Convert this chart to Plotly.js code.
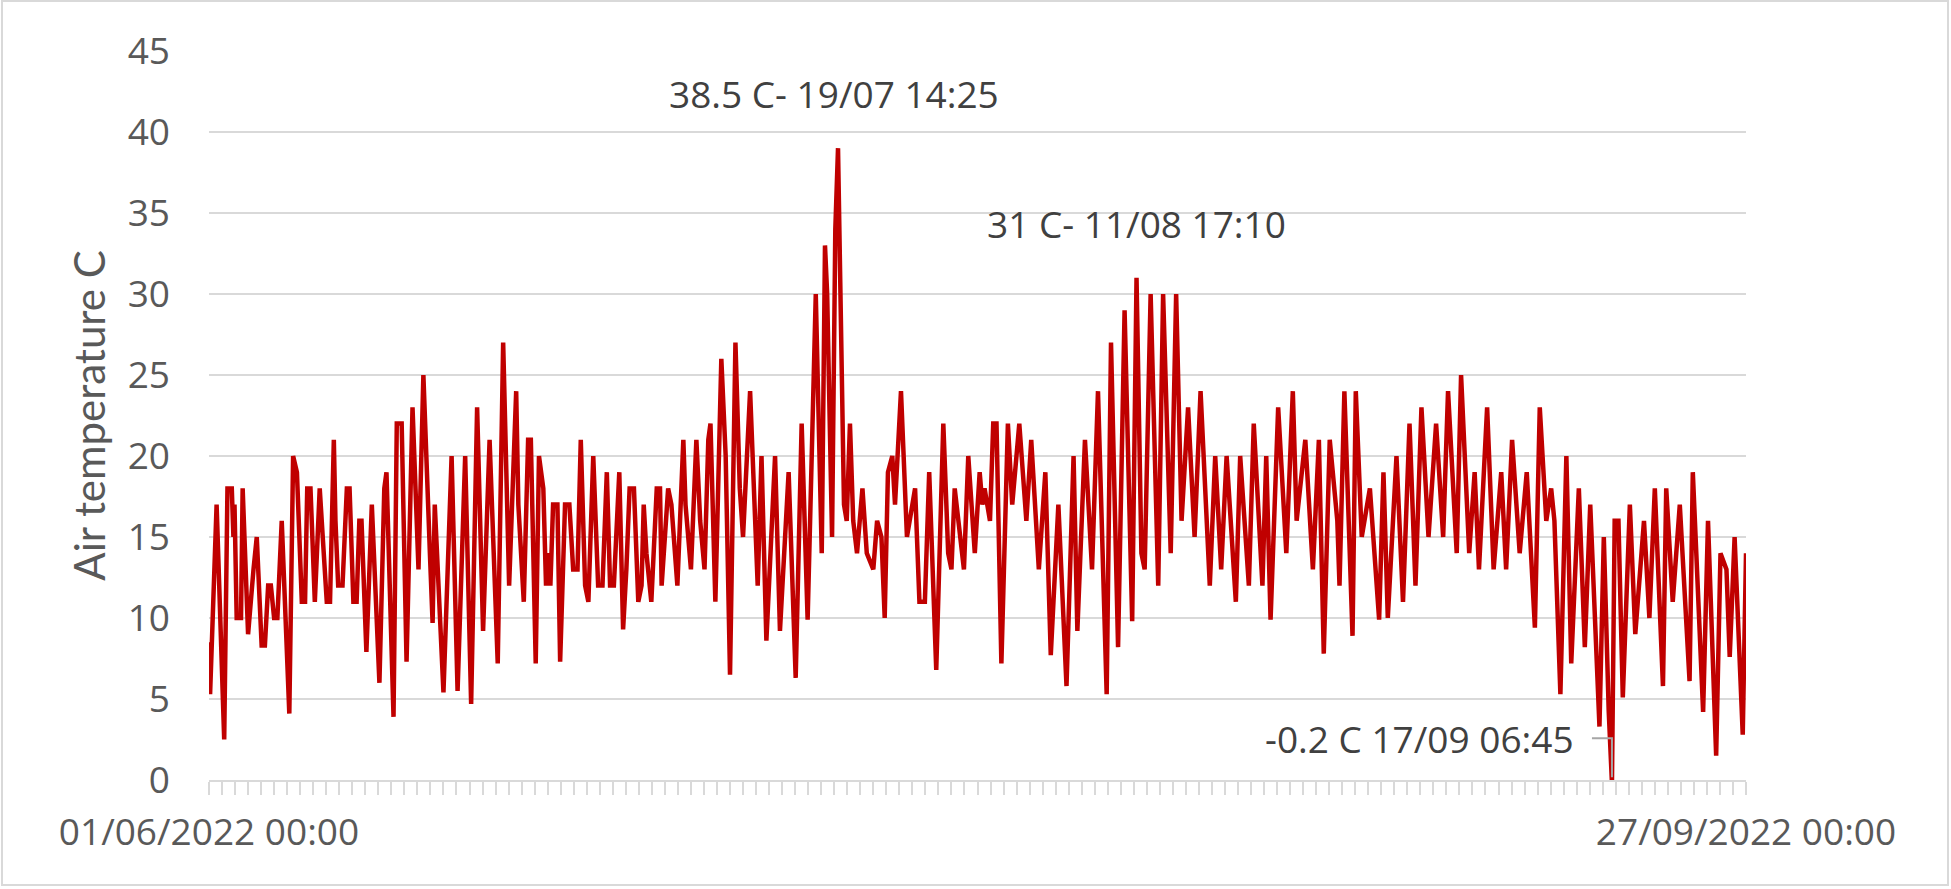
<!DOCTYPE html>
<html>
<head>
<meta charset="utf-8">
<script src="https://cdn.plot.ly/plotly-3.0.1.min.js"></script>
<style>
html,body{margin:0;padding:0;background:#fff;}
#chart{width:1951px;height:889px;}
</style>
</head>
<body>
<div id="chart"></div>
<script>
// ---- data ----
const seriesStart = '2022-06-01 00:00';
const seriesEnd = '2022-09-27 00:00';
// hours elapsed since seriesStart
const hoursFromStart = [
0,2,14,19,28,34,42,45,47,51,59,62,72,82,88,97,103,109,114,120,126,134,140,148,155,162,171,177,181,187,195,204,217,223,230,233,238,246,254,259,266,272,
277,281,290,300,314,323,327,340,346,355,364,375,386,395,407,412,416,432,447,458,472,483,494,505,517,532,542,553,
566,570,580,588,593,602,608,616,621,625,629,634,642,647,656,664,671,679,685,693,699,708,717,725,733,739,746,756,763,769,775,783,791,797,801,806,815,825,831,834,
846,852,863,874,878,888,898,905,913,920,924,933,944,952,960,970,978,984,997,1003,1011,1018,1027,1043,1052,1068,1081,1092,1103,1118,1129,
1135,1139,1148,1154,1159,1162,1165,1170,1175,1181,1187,1194,1204,1212,1224,1231,1239,1245,1251,1259,1264,1275,1286,1301,1309,1319,1327,1340,1353,1362,1368,1374,1391,1399,1411,
1420,1425,1429,1439,1445,1451,1460,1472,1480,1493,1506,1515,1529,1541,1551,1565,1580,1593,1600,1614,1627,1638,1654,1662,1675,1687,1701,
1709,1718,1724,1735,1749,1758,1772,1782,1792,1804,1816,1827,1844,1854,1865,1875,1892,1900,1916,1925,1941,1948,1956,1970,1985,
1997,2004,2010,2020,2034,2045,2054,2065,2079,2083,2092,2107,2113,2124,2139,2156,2164,2172,2188,2200,2212,2223,2234,2247,2261,2274,
2283,2299,2307,2322,2332,2340,2355,2367,2381,2390,2401,2415,2428,2443,2452,2464,2473,2479,2490,2501,2510,2524,2535,2545,2562,
2570,2579,2585,2590,2597,2605,2618,2628,2644,2654,2664,2679,2685,2697,2710,2728,2734,2753,2762,2777,2785,2796,2802,2811,2826,2832
];
// air temperature, degrees C
const airTempC = [
8.5,5.3,17,12,2.5,18,18,15,17,10,10,18,9,13,15,8.3,8.3,12,12,10,10,16,11,4.1,20,19,11,11,18,18,11,18,11,11,21,16,12,12,18,18,11,11,
16,16,7.9,17,6,18,19,3.9,22,22,7.3,23,13,25,14,9.7,17,5.4,20,5.5,20,4.7,23,9.2,21,7.2,27,12,
24,17,11,21,21,7.2,20,18,12,14,12,17,17,7.3,17,17,13,13,21,12,11,20,12,12,19,12,12,19,9.3,13,18,18,11,12,17,14,11,18,18,12,
18,17,12,21,17,13,21,16,13,21,22,11,26,20,6.5,27,18,15,24,18,12,20,8.6,20,9.2,19,6.3,22,9.9,30,14,
33,30,15,34,39,32,27,17,16,22,16,14,18,14,13,16,15,10,19,20,17,24,15,18,11,11,19,6.8,22,14,13,18,13,20,14,
19,17,18,16,22,22,7.2,22,17,22,16,21,13,19,7.7,17,5.8,20,9.2,21,13,24,5.3,27,8.2,29,9.8,
31,14,13,30,12,30,14,30,16,23,15,24,12,20,13,20,11,20,12,22,12,20,9.9,23,14,
24,16,18,21,13,21,7.8,21,16,12,24,8.9,24,15,18,9.9,19,10,20,11,22,12,23,15,22,15,
24,14,25,14,19,13,23,13,19,13,21,14,19,9.4,23,16,18,16,5.3,20,7.2,18,8.2,17,3.3,
15,4.3,-0.2,16,16,5.1,17,9,16,10,18,5.8,18,11,17,6.1,19,4.2,16,1.5,14,13,7.6,15,2.8,14
];
const xTickLabels = ['01/06/2022 00:00', '27/09/2022 00:00'];
const yTitle = 'Air temperature C';
const labelMax = '38.5 C- 19/07 14:25';
const labelAug = '31 C- 11/08 17:10';
const labelMin = '-0.2 C 17/09 06:45';

// ---- build ----
const t0 = Date.UTC(2022, 5, 1, 0, 0, 0);
function toDate(h) {
  return new Date(t0 + h * 3600000).toISOString().slice(0, 19).replace('T', ' ');
}
const xDates = hoursFromStart.map(toDate);

// daily minor ticks, labels only at the two ends
const endMs = Date.UTC(2022, 8, 27, 0, 0, 0);
const tickVals = [], tickText = [];
for (let ms = t0; ms <= endMs; ms += 86400000) {
  tickVals.push(new Date(ms).toISOString().slice(0, 19).replace('T', ' '));
  tickText.push('');
}
tickText[0] = xTickLabels[0];
tickText[tickText.length - 1] = xTickLabels[1];

// locate labelled points
let iMax = 0, iMin = 0;
airTempC.forEach((v, i) => { if (v > airTempC[iMax]) iMax = i; if (v < airTempC[iMin]) iMin = i; });
let iAug = -1;
hoursFromStart.forEach((h, i) => {
  if (h > 1680 && h < 1800 && (iAug < 0 || airTempC[i] > airTempC[iAug])) iAug = i;
});

const trace = {
  type: 'scatter', mode: 'lines',
  x: xDates, y: airTempC,
  line: {color: '#c00000', width: 4.5, shape: 'linear'},
  hoverinfo: 'x+y'
};

const labelFont = {family: 'Open Sans, sans-serif', size: 37, color: '#404040'};
const tickFont = {family: 'Open Sans, sans-serif', size: 37, color: '#595959'};
const layout = {
  width: 1951, height: 889,
  margin: {l: 209, r: 205, t: 51, b: 109, pad: 0},
  paper_bgcolor: '#ffffff', plot_bgcolor: '#ffffff',
  showlegend: false,
  xaxis: {
    type: 'date',
    range: [seriesStart, seriesEnd],
    tickmode: 'array', tickvals: tickVals, ticktext: tickText,
    ticks: 'outside', ticklen: 13, tickwidth: 2, tickcolor: '#d9d9d9',
    showgrid: false, zeroline: false,
    showline: true, linecolor: '#d9d9d9', linewidth: 2,
    tickangle: 0,
    ticklabelstandoff: 6,
    tickfont: tickFont
  },
  yaxis: {
    range: [0, 45], dtick: 5, tick0: 0,
    showgrid: true, gridcolor: '#d9d9d9', gridwidth: 2,
    zeroline: false, showline: false, ticks: '',
    ticklabelstandoff: 38,
    tickfont: tickFont,
    title: {text: yTitle, standoff: 8, font: {family: 'Lato, sans-serif', size: 42, color: '#595959'}}
  },
  annotations: [
    {x: xDates[iMax], y: airTempC[iMax], xref: 'x', yref: 'y', text: labelMax, showarrow: false,
     xanchor: 'center', yanchor: 'middle', xshift: -4, yshift: 55, font: labelFont},
    {x: xDates[iAug], y: airTempC[iAug], xref: 'x', yref: 'y', text: labelAug, showarrow: false,
     xanchor: 'center', yanchor: 'middle', xshift: 0, yshift: 54, font: labelFont},
    {x: xDates[iMin], y: Math.max(0, airTempC[iMin]), xref: 'x', yref: 'y', text: labelMin, showarrow: false,
     xanchor: 'right', yanchor: 'middle', xshift: -36, yshift: 42, font: labelFont}
  ],
  shapes: [
    // leader line for the minimum label
    {type: 'path', xref: 'x', yref: 'y', xsizemode: 'pixel', ysizemode: 'pixel',
     xanchor: xDates[iMin], yanchor: airTempC[iMin],
     path: 'M -20,45 L 0,45 L 0,6', line: {color: '#a6a6a6', width: 2}},
    // chart border
    {type: 'rect', xref: 'paper', yref: 'paper',
     x0: -207 / 1537, x1: 1739 / 1537, y0: -105 / 729, y1: 779 / 729,
     line: {color: '#d9d9d9', width: 2}, fillcolor: 'rgba(0,0,0,0)', layer: 'below'}
  ]
};

Plotly.newPlot('chart', [trace], layout, {staticPlot: true, displayModeBar: false});
</script>
</body>
</html>
